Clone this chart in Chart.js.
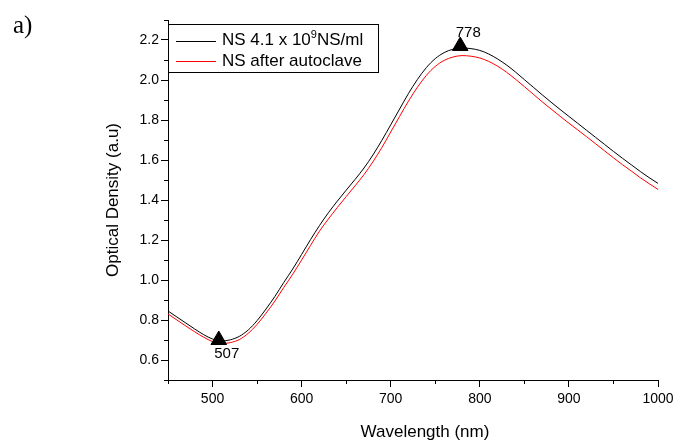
<!DOCTYPE html>
<html>
<head>
<meta charset="utf-8">
<script src="https://cdn.jsdelivr.net/npm/chart.js@4.4.0/dist/chart.umd.min.js"></script>
<style>
  body { margin: 0; background: #fff; }
  #wrap { position: relative; width: 683px; height: 446px; }
</style>
</head>
<body>
<div id="wrap"><canvas id="myChart" width="683" height="446"></canvas></div>
<script>
// wavelength grid (nm)
const wavelengths = [450, 460, 470, 480, 490, 500, 510, 520, 530, 540, 550, 560, 570, 580, 590,
    600, 610, 620, 630, 640, 650, 660, 670, 680, 690, 700, 710, 720, 730, 740, 750, 760, 770, 780, 790,
    800, 810, 820, 830, 840, 850, 860, 870, 880, 890, 900, 910, 920, 930, 940, 950, 960, 970, 980, 990, 1000];

// NS 4.1 x 10^9 NS/ml (black)
const odBefore = [0.845, 0.815, 0.785, 0.755, 0.727, 0.705, 0.695, 0.701, 0.718, 0.750, 0.797, 0.855, 0.918, 0.988, 1.055,
    1.128, 1.202, 1.272, 1.336, 1.394, 1.449, 1.503, 1.560, 1.625, 1.698, 1.776, 1.855, 1.933, 2.003, 2.062, 2.107, 2.137, 2.154, 2.160, 2.157,
    2.148, 2.130, 2.105, 2.075, 2.040, 2.002, 1.964, 1.926, 1.889, 1.853, 1.818, 1.783, 1.748, 1.713, 1.678, 1.643, 1.609, 1.576, 1.543, 1.512, 1.483];

// NS after autoclave (red)
const odAfter = [0.830, 0.800, 0.770, 0.741, 0.714, 0.692, 0.682, 0.687, 0.702, 0.733, 0.778, 0.834, 0.895, 0.963, 1.029,
    1.100, 1.173, 1.244, 1.305, 1.362, 1.417, 1.471, 1.527, 1.591, 1.662, 1.740, 1.818, 1.895, 1.964, 2.023, 2.068, 2.098, 2.115, 2.122, 2.119,
    2.110, 2.093, 2.069, 2.039, 2.004, 1.967, 1.929, 1.891, 1.855, 1.819, 1.784, 1.750, 1.716, 1.681, 1.646, 1.611, 1.577, 1.545, 1.512, 1.482, 1.453];

// marked extrema
const peakWl = [507, 778];
const peakOd = [0.700, 2.170];
const peakLabels = ["507", "778"];

const seriesNames = ["NS 4.1 x 10", "NS after autoclave"];
const FONT = "'Liberation Sans', Arial, sans-serif";

const isMajorY = v => Math.round(v * 10) % 2 === 0;
const isMajorX = v => Math.round(v) % 100 === 0;

// minor ticks, legend, peak labels, x title, panel letter
const extras = {
    id: "extras",
    afterDraw(chart) {
        const ctx = chart.ctx;
        const xs = chart.scales.x, ys = chart.scales.y;
        const area = chart.chartArea;
        ctx.save();
        ctx.strokeStyle = "#000";
        ctx.lineWidth = 1;
        ctx.beginPath();
        xs.ticks.forEach(t => {
            if (isMajorX(t.value)) return;
            const px = Math.round(xs.getPixelForValue(t.value)) + 0.5;
            ctx.moveTo(px, area.bottom);
            ctx.lineTo(px, area.bottom + 4);
        });
        ys.ticks.forEach(t => {
            if (isMajorY(t.value)) return;
            const py = Math.round(ys.getPixelForValue(t.value)) + 0.5;
            ctx.moveTo(area.left, py);
            ctx.lineTo(area.left - 4, py);
        });
        ctx.stroke();

        // peak labels
        ctx.fillStyle = "#000";
        ctx.font = "15px " + FONT;
        ctx.textAlign = "center";
        peakWl.forEach((w, i) => {
            const px = xs.getPixelForValue(w) + 8;
            const py = ys.getPixelForValue(peakOd[i]);
            if (i === 0) {
                ctx.textBaseline = "top";
                ctx.fillText(peakLabels[i], px, py + 6);
            } else {
                ctx.textBaseline = "bottom";
                ctx.fillText(peakLabels[i], px, py - 6);
            }
        });

        // x axis title
        ctx.font = "17px " + FONT;
        ctx.textBaseline = "middle";
        ctx.fillText("Wavelength (nm)", (area.left + area.right) / 2 + 12, 432);

        // legend
        const lx = area.left, ly = area.top + 4;
        ctx.fillStyle = "#fff";
        ctx.fillRect(lx + 0.5, ly + 0.5, 210, 48);
        ctx.strokeRect(lx + 0.5, ly + 0.5, 210, 48);
        const colors = ["#000", "#ff0000"];
        ctx.textAlign = "left";
        seriesNames.forEach((name, i) => {
            const ry = ly + 16.5 + i * 20.5;
            ctx.strokeStyle = colors[i];
            ctx.beginPath();
            ctx.moveTo(lx + 8, Math.round(ry) + 0.5);
            ctx.lineTo(lx + 48, Math.round(ry) + 0.5);
            ctx.stroke();
            ctx.fillStyle = "#000";
            ctx.font = "17px " + FONT;
            ctx.fillText(name, lx + 54, ry);
            if (i === 0) {
                let w = ctx.measureText(name).width;
                ctx.font = "11px " + FONT;
                ctx.fillText("9", lx + 54 + w, ry - 6);
                w += ctx.measureText("9").width;
                ctx.font = "17px " + FONT;
                ctx.fillText("NS/ml", lx + 54 + w, ry);
            }
        });

        // panel letter
        ctx.font = "25px 'Liberation Serif', 'Times New Roman', serif";
        ctx.textBaseline = "alphabetic";
        ctx.fillText("a)", 13, 33);
        ctx.restore();
    }
};

new Chart(document.getElementById("myChart").getContext("2d"), {
    type: "line",
    data: {
        datasets: [
            {
                label: "peaks",
                data: peakWl.map((w, i) => ({ x: w, y: peakOd[i] })),
                showLine: false,
                pointStyle: "triangle",
                pointRadius: 9,
                backgroundColor: "#000",
                borderColor: "#000",
                order: 0
            },
            {
                label: seriesNames[0] + "9NS/ml",
                data: wavelengths.map((w, i) => ({ x: w, y: odBefore[i] })),
                borderColor: "#000",
                borderWidth: 1,
                pointRadius: 0,
                cubicInterpolationMode: "monotone",
                order: 1
            },
            {
                label: seriesNames[1],
                data: wavelengths.map((w, i) => ({ x: w, y: odAfter[i] })),
                borderColor: "#ff0000",
                borderWidth: 1,
                pointRadius: 0,
                cubicInterpolationMode: "monotone",
                order: 2
            }
        ]
    },
    options: {
        responsive: false,
        animation: false,
        layout: { padding: { left: 0, top: 20, right: 25, bottom: 0 } },
        plugins: {
            legend: { display: false },
            tooltip: { enabled: false }
        },
        scales: {
            x: {
                type: "linear",
                min: 450,
                max: 1000,
                afterFit: s => { s.height = 66; },
                border: { display: true, color: "#000", width: 1 },
                grid: {
                    drawOnChartArea: false,
                    tickLength: 7,
                    tickColor: c => (c.tick && isMajorX(c.tick.value)) ? "#000" : "rgba(0,0,0,0)"
                },
                ticks: {
                    stepSize: 50,
                    autoSkip: false,
                    maxRotation: 0,
                    padding: 4,
                    color: "#000",
                    font: { family: FONT, size: 14 },
                    callback: v => isMajorX(v) ? String(v) : ""
                }
            },
            y: {
                min: 0.5,
                max: 2.3,
                afterFit: s => { s.width = 168; },
                border: { display: true, color: "#000", width: 1 },
                grid: {
                    drawOnChartArea: false,
                    tickLength: 7,
                    tickColor: c => (c.tick && isMajorY(c.tick.value)) ? "#000" : "rgba(0,0,0,0)"
                },
                ticks: {
                    stepSize: 0.1,
                    autoSkip: false,
                    padding: 2,
                    color: "#000",
                    font: { family: FONT, size: 14 },
                    callback: v => isMajorY(v) ? v.toFixed(1) : ""
                },
                title: {
                    display: true,
                    text: "Optical Density (a.u)",
                    color: "#000",
                    font: { family: FONT, size: 17 },
                    padding: { top: 103, bottom: 0 }
                }
            }
        }
    },
    plugins: [extras]
});
</script>
</body>
</html>
